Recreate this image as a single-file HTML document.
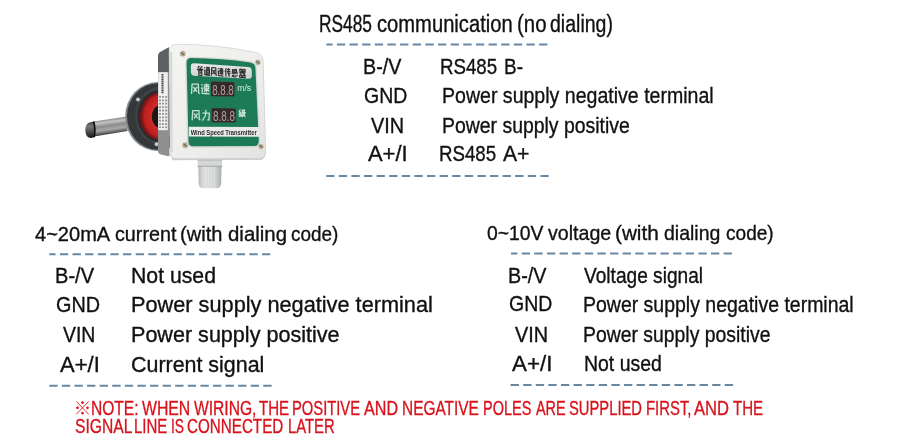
<!DOCTYPE html>
<html><head><meta charset="utf-8"><style>
html,body{margin:0;padding:0;background:#fff}
body{width:900px;height:437px;position:relative;overflow:hidden;font-family:"Liberation Sans",sans-serif}
.t{position:absolute;white-space:nowrap;transform-origin:0 0;-webkit-text-stroke:0.35px currentColor}
svg{position:absolute;left:0;top:0}
</style></head><body>
<svg width="900" height="437" viewBox="0 0 900 437">
<filter id="soft" x="-5%" y="-5%" width="110%" height="110%"><feGaussianBlur stdDeviation="0.35"/></filter>
<g filter="url(#soft)">
<defs>
<linearGradient id="gTube" x1="0" y1="0" x2="0" y2="1">
<stop offset="0" stop-color="#7c7c7c"/><stop offset="0.2" stop-color="#b8b8b8"/><stop offset="0.45" stop-color="#9a9a9a"/><stop offset="0.8" stop-color="#6e6e6e"/><stop offset="1" stop-color="#3a3a3a"/>
</linearGradient>
<linearGradient id="gCap" x1="0" y1="0" x2="0" y2="1">
<stop offset="0" stop-color="#555"/><stop offset="0.3" stop-color="#8a8a8a"/><stop offset="0.6" stop-color="#2a2a2a"/><stop offset="1" stop-color="#111"/>
</linearGradient>
<linearGradient id="gFace" x1="0" y1="0" x2="1" y2="1">
<stop offset="0" stop-color="#f4f4f2"/><stop offset="0.6" stop-color="#ededeb"/><stop offset="1" stop-color="#e2e3e1"/>
</linearGradient>
<linearGradient id="gGland" x1="0" y1="0" x2="1" y2="0">
<stop offset="0" stop-color="#b4b6b7"/><stop offset="0.25" stop-color="#e4e5e5"/><stop offset="0.7" stop-color="#dadbdb"/><stop offset="1" stop-color="#a5a7a8"/>
</linearGradient>
<radialGradient id="gRed" cx="0.55" cy="0.5" r="0.5">
<stop offset="0.55" stop-color="#d12a27"/><stop offset="0.9" stop-color="#b81f1f"/><stop offset="1" stop-color="#7a1515"/>
</radialGradient>
<linearGradient id="gLabel" x1="0" y1="0" x2="0" y2="1">
<stop offset="0" stop-color="#e6e7e7"/><stop offset="1" stop-color="#cfd1d0"/>
</linearGradient>
</defs>
<linearGradient id="gTube2" gradientUnits="userSpaceOnUse" x1="110.3" y1="118.9" x2="112.4" y2="133.9"><stop offset="0" stop-color="#8a8a8a"/><stop offset="0.18" stop-color="#c4c4c4"/><stop offset="0.42" stop-color="#8c8c8c"/><stop offset="0.68" stop-color="#a8a8a8"/><stop offset="0.9" stop-color="#5e5e5e"/><stop offset="1" stop-color="#2e2e2e"/></linearGradient>
<path d="M93.5 121.4 L127 116.6 L127.5 131 L93.8 136.6 Z" fill="url(#gTube2)"/>
<linearGradient id="gCap2" gradientUnits="userSpaceOnUse" x1="89" y1="122" x2="90" y2="138"><stop offset="0" stop-color="#3c3c3c"/><stop offset="0.25" stop-color="#7a7a7a"/><stop offset="0.55" stop-color="#555"/><stop offset="0.85" stop-color="#2a2a2a"/><stop offset="1" stop-color="#111"/></linearGradient>
<path d="M90.5 122.2 Q85.2 123.2 85.3 130 Q85.4 137.3 90.6 137.9 L94.6 137.3 L94.3 121.5 Z" fill="url(#gCap2)"/>
<path d="M93.6 121.6 Q95.8 129 94.2 137" stroke="#0c0c0c" stroke-width="1.6" fill="none"/>
<ellipse cx="157.5" cy="116.5" rx="32.3" ry="34.5" fill="#86898c"/>
<ellipse cx="158" cy="116.5" rx="31" ry="33.2" fill="#36383b"/>
<ellipse cx="160" cy="115.5" rx="25" ry="28.5" fill="#404245"/>
<ellipse cx="160" cy="116" rx="22.5" ry="26" fill="#2b2c2e"/>
<ellipse cx="160" cy="116.2" rx="20.2" ry="23.6" fill="url(#gRed)"/>
<ellipse cx="160" cy="116.6" rx="8.2" ry="11.2" fill="#1c1819"/>
<circle cx="138" cy="99.5" r="2.1" fill="#cfd0d0" stroke="#555" stroke-width="0.5"/>
<circle cx="156.6" cy="144.2" r="2.1" fill="#cfd0d0" stroke="#555" stroke-width="0.5"/>
<path d="M158.00 58.00Q158.00 55.00 160.43 53.24L167.99 47.79Q168.80 47.20 168.81 48.20L169.49 155.50Q169.50 156.50 168.53 156.27L160.92 154.49Q158.00 153.80 158.00 150.80Z" fill="#8d8f91"/>
<path d="M158 72.2 L158 56 Q158 53 161 51.5 L168.8 47.2 L168.9 72.2 Z" fill="#5d6063"/>
<rect x="158.2" y="72.2" width="9.6" height="58" fill="#efefef"/>
<path d="M162.5 74v19.5" stroke="#444" stroke-width="2" stroke-dasharray="1.6 0.6"/>
<path d="M160 96v32M163 96v32M166 96v32" stroke="#555" stroke-width="1.1" stroke-dasharray="1.8 1.6"/>
<path d="M169.3 52 Q169.3 44.3 176.5 44.3 Q215 44 255.5 52.3 Q262.8 53.8 263.2 61 L265.6 151 Q265.7 158.4 258.5 158.5 L177 158.9 Q170.2 158.9 170.1 152 Z" transform="translate(0 1.2)" fill="#c4c5c4"/>
<path d="M169.3 52 Q169.3 44.3 176.5 44.3 Q215 44 255.5 52.3 Q262.8 53.8 263.2 61 L265.6 151 Q265.7 158.4 258.5 158.5 L177 158.9 Q170.2 158.9 170.1 152 Z" fill="url(#gFace)" stroke="#d0d1cf" stroke-width="0.7"/>
<path d="M171 52 L171.5 152" stroke="#d9dad8" stroke-width="2.5"/>
<path d="M185.3 63 Q185.2 56.7 191 56.8 Q222 57.1 250.5 61.2 Q256.6 62.2 256.7 68 L260.2 141.5 Q260.2 147.6 254 147.6 L193 147.7 Q187.2 147.7 187.1 141.8 Z" fill="#d3d8d5"/>
<path d="M186.6 63 Q186.6 58.1 191 58.1 Q222 58.4 250.2 62.5 Q255.3 63.3 255.4 68 L258.8 141.2 Q258.8 146.1 254 146.1 L193 146.3 Q188.6 146.3 188.5 141.6 Z" fill="#1f7a57"/>
<path d="M190.83 66.50Q190.80 63.00 194.29 63.25L248.21 67.05Q251.70 67.30 251.76 70.80L251.84 75.50Q251.90 79.00 248.41 78.81L194.39 75.79Q190.90 75.60 190.87 72.10Z" fill="url(#gLabel)"/>
<path d="M197.87 66.55L199.69 66.68M200.61 66.74L202.54 66.88M198.55 66.15L198.10 67.91M201.40 66.35L200.95 68.11M197.59 70.13L197.59 69.05L202.72 69.39L202.72 70.46M200.15 68.05L200.15 69.22M198.73 70.20L201.57 70.38L201.57 72.08L198.73 71.91L198.73 70.20M198.73 72.63L201.86 72.82L201.86 75.32L198.73 75.14L198.73 72.63M204.42 67.27L204.85 68.37M203.99 70.27L204.79 70.32L204.79 73.70M204.17 74.38L206.28 74.85L210.00 75.33M205.97 67.74L209.81 68.00M206.90 66.74L207.27 67.65M208.88 66.88L208.51 67.73M206.40 68.65L209.38 68.85L209.38 73.80L206.40 73.62L206.40 68.65M206.40 70.25L209.38 70.44M206.40 71.85L209.38 72.03M211.39 75.67L211.74 67.52L215.76 67.80L215.99 75.06L216.70 75.71M212.57 69.77L214.93 74.12M214.93 69.93L212.57 73.98M218.09 68.22L218.50 69.29M217.68 71.15L218.44 71.20L218.44 74.51M217.85 75.17L219.86 75.63L223.40 76.09M219.45 68.84L223.22 69.10M221.34 67.76L221.34 74.85M219.86 70.08L222.81 70.28L222.81 72.17L219.86 71.99L219.86 70.08M221.16 72.24L219.62 74.23M221.51 72.26L223.22 74.27M226.31 68.11L225.03 71.63M225.84 70.31L225.84 76.66M227.12 69.45L230.31 69.67M226.89 71.40L230.48 71.64M228.63 68.27L228.05 72.93M227.35 73.15L230.02 73.31L228.28 75.25M228.28 74.91L229.56 76.69M232.08 69.70L237.12 70.05M232.56 69.74L232.20 73.79M233.16 70.96L235.20 71.10M233.16 71.81L234.96 71.93L234.96 73.36L233.16 73.25L233.16 71.81M235.68 68.77L237.36 74.10M237.00 70.88L235.32 73.47M232.08 76.67L232.80 75.01M233.40 74.54L233.64 76.67L236.40 76.82M234.90 74.63L235.20 75.66M236.64 74.90L237.36 76.12M239.68 69.22L241.86 69.37L241.86 71.37L239.68 71.23L239.68 69.22M242.94 69.45L245.12 69.60L245.12 71.59L242.94 71.45L242.94 69.45M239.27 72.54L245.53 72.95M242.54 71.75L239.95 74.60M242.54 72.92L245.12 74.91M239.68 75.08L241.86 75.21L241.86 77.38L239.68 77.26L239.68 75.08M242.94 75.28L245.12 75.41L245.12 77.57L242.94 77.44L242.94 75.28" stroke="#333" stroke-width="1.2" fill="none" stroke-linejoin="round"/>
<path d="M191.52 93.99L192.07 84.13L198.33 84.13L198.70 92.93L199.80 93.67M193.36 86.78L197.04 91.87M197.04 86.78L193.36 91.87M201.68 84.28L202.30 85.60M201.06 88.02L202.21 88.02L202.21 92.20M201.33 93.08L204.32 93.52L209.60 93.85M203.70 84.94L209.34 84.94M206.52 83.40L206.52 92.42M204.32 86.48L208.72 86.48L208.72 88.90L204.32 88.90L204.32 86.48M206.26 89.12L203.97 91.76M206.78 89.12L209.34 91.54M192.12 120.39L192.67 110.72L198.93 110.72L199.30 119.35L200.40 120.08M193.96 113.32L197.64 118.31M197.64 113.32L193.96 118.31M202.46 113.04L209.34 113.04L208.91 120.06L207.45 119.52M205.90 109.80L205.56 115.20L202.46 120.60M240.42 109.50L239.02 111.96L240.70 112.27L239.02 114.58L241.12 114.12M238.88 116.58L241.12 115.35M241.75 110.27L244.62 110.27L243.50 112.58L245.32 112.58L242.10 117.20M242.52 110.27L242.10 114.12L241.40 116.89M242.94 113.20L245.32 116.89" stroke="#c4e2d2" stroke-width="1.3" fill="none" stroke-linejoin="round"/>
<path d="M211.00 82.30Q211.00 81.50 211.80 81.53L233.70 82.27Q234.50 82.30 234.50 83.10L234.50 95.80Q234.50 96.60 233.70 96.59L211.80 96.31Q211.00 96.30 211.00 95.50Z" fill="#352a2a"/>
<path d="M211.70 108.70Q211.70 107.90 212.50 107.92L235.00 108.38Q235.80 108.40 235.80 109.20L235.80 121.80Q235.80 122.60 235.00 122.59L212.50 122.41Q211.70 122.40 211.70 121.60Z" fill="#352a2a"/>
<g font-family="Liberation Sans" fill="#b8a0a0">
<text x="212.2" y="95" font-size="14.5" textLength="21.5" lengthAdjust="spacingAndGlyphs">8.8.8</text>
<text x="213" y="121.2" font-size="14.5" textLength="22" lengthAdjust="spacingAndGlyphs">8.8.8</text>
</g>
<text x="237.2" y="91.2" font-family="Liberation Sans" font-size="8.5" fill="#d3ebde" textLength="14" lengthAdjust="spacingAndGlyphs">m/s</text>
<path d="M188.70 127.20Q188.70 126.70 189.20 126.70L259.10 126.90Q259.60 126.90 259.60 127.40L259.60 136.30Q259.60 136.80 259.10 136.80L189.20 136.60Q188.70 136.60 188.70 136.10Z" fill="#e9ebea"/>
<text x="190.7" y="135.0" font-family="Liberation Sans" font-weight="bold" font-size="7.9" fill="#2a2a2a" textLength="66" lengthAdjust="spacingAndGlyphs">Wind Speed Transmitter</text>
<circle cx="182.7" cy="53.8" r="3" fill="#aea58d" stroke="#e8e6de" stroke-width="0.6"/>
<path d="M181.1 52.599999999999994L184.29999999999998 55.0" stroke="#4a4535" stroke-width="0.9"/>
<circle cx="257.9" cy="62.4" r="2.8" fill="#aea58d" stroke="#e8e6de" stroke-width="0.6"/>
<path d="M256.29999999999995 61.199999999999996L259.5 63.6" stroke="#4a4535" stroke-width="0.9"/>
<circle cx="185.2" cy="145.2" r="3.1" fill="#aea58d" stroke="#e8e6de" stroke-width="0.6"/>
<path d="M183.6 144.0L186.79999999999998 146.39999999999998" stroke="#4a4535" stroke-width="0.9"/>
<circle cx="261.0" cy="146.5" r="2.8" fill="#aea58d" stroke="#e8e6de" stroke-width="0.6"/>
<path d="M259.4 145.3L262.6 147.7" stroke="#4a4535" stroke-width="0.9"/>
<path d="M172 159.4 L263 158.9" stroke="#cfd0cf" stroke-width="1.6"/>
<path d="M197.6 159.6 H222.2 V166.2 H197.6 Z" fill="#d4d6d7"/>
<path d="M197.6 160.2 H222.2" stroke="#b9bbbc" stroke-width="1"/>
<path d="M197.6 166.3 H222.2" stroke="#8f9192" stroke-width="1"/>
<path d="M198.3 166.8 H221.5 L221.1 183.5 Q220.6 188.3 216.8 188.3 H202.8 Q199 188.3 198.7 183.5 Z" fill="url(#gGland)"/>
<path d="M201 168v18M204 168v19M207 168v19M210 168v19M213 168v19M216 168v19M219 168v18" stroke="#cbcccc" stroke-width="0.6"/>
</g>
<g fill="#d7141d"><path d="M76.3 401.4L88.7 414.3M88.7 401.4L76.3 414.3" stroke="#d7141d" stroke-width="0.9"/><circle cx="82.5" cy="402.6" r="1.35"/><circle cx="82.5" cy="413.1" r="1.35"/><circle cx="77.5" cy="407.8" r="1.35"/><circle cx="87.5" cy="407.8" r="1.35"/></g>
<path d="M326.40 44.50H332.56M336.90 44.50H345.20M349.54 44.50H357.84M362.18 44.50H370.48M374.82 44.50H383.12M387.46 44.50H395.76M400.10 44.50H408.40M412.74 44.50H421.04M425.38 44.50H433.68M438.02 44.50H446.32M450.66 44.50H458.96M463.30 44.50H471.60M475.94 44.50H484.24M488.58 44.50H496.88M501.22 44.50H509.52M513.86 44.50H522.16M526.50 44.50H534.80M539.14 44.50H547.44M326.20 175.90H334.50M338.80 175.90H347.10M351.40 175.90H359.70M364.00 175.90H372.30M376.60 175.90H384.90M389.20 175.90H397.50M401.80 175.90H410.10M414.40 175.90H422.70M427.00 175.90H435.30M439.60 175.90H447.90M452.20 175.90H460.50M464.80 175.90H473.10M477.40 175.90H485.70M490.00 175.90H498.30M502.60 175.90H510.90M515.20 175.90H523.50M527.80 175.90H536.10M540.40 175.90H548.70M49.30 254.20H55.57M59.90 254.20H68.20M72.53 254.20H80.83M85.16 254.20H93.46M97.79 254.20H106.09M110.42 254.20H118.72M123.05 254.20H131.35M135.68 254.20H143.98M148.31 254.20H156.61M160.94 254.20H169.24M173.57 254.20H181.87M186.20 254.20H194.50M198.83 254.20H207.13M211.46 254.20H219.76M224.09 254.20H232.39M236.72 254.20H245.02M249.35 254.20H257.65M261.98 254.20H270.28M49.30 385.70H57.60M61.89 385.70H70.19M74.48 385.70H82.78M87.07 385.70H95.37M99.66 385.70H107.96M112.25 385.70H120.55M124.84 385.70H133.14M137.43 385.70H145.73M150.02 385.70H158.32M162.61 385.70H170.91M175.20 385.70H183.50M187.79 385.70H196.09M200.38 385.70H208.68M212.97 385.70H221.27M225.56 385.70H233.86M238.15 385.70H246.45M250.74 385.70H259.04M263.33 385.70H271.63M511.00 253.50H517.38M521.70 253.50H530.00M534.32 253.50H542.62M546.94 253.50H555.24M559.56 253.50H567.86M572.18 253.50H580.48M584.80 253.50H593.10M597.42 253.50H605.72M610.04 253.50H618.34M622.66 253.50H630.96M635.28 253.50H643.58M647.90 253.50H656.20M660.52 253.50H668.82M673.14 253.50H681.44M685.76 253.50H694.06M698.38 253.50H706.68M711.00 253.50H719.30M723.62 253.50H731.92M510.60 384.90H518.90M523.20 384.90H531.50M535.80 384.90H544.10M548.40 384.90H556.70M561.00 384.90H569.30M573.60 384.90H581.90M586.20 384.90H594.50M598.80 384.90H607.10M611.40 384.90H619.70M624.00 384.90H632.30M636.60 384.90H644.90M649.20 384.90H657.50M661.80 384.90H670.10M674.40 384.90H682.70M687.00 384.90H695.30M699.60 384.90H707.90M712.20 384.90H720.50M724.80 384.90H733.10" stroke="#6887a3" stroke-width="2" fill="none"/>
</svg>
<div class="t" style="left:362.90px;top:55.80px;font-size:22px;line-height:22px;font-weight:normal;transform:scaleX(0.8952);color:#111">B-/V</div>
<div class="t" style="left:364.11px;top:84.80px;font-size:22px;line-height:22px;font-weight:normal;transform:scaleX(0.8872);color:#111">GND</div>
<div class="t" style="left:371.00px;top:114.90px;font-size:22px;line-height:22px;font-weight:normal;transform:scaleX(0.9026);color:#111">VIN</div>
<div class="t" style="left:367.80px;top:143.30px;font-size:22px;line-height:22px;font-weight:normal;transform:scaleX(0.9965);color:#111">A+/I</div>
<div class="t" style="left:442.41px;top:84.80px;font-size:22px;line-height:22px;font-weight:normal;transform:scaleX(0.8887);color:#111">Power supply negative terminal</div>
<div class="t" style="left:442.42px;top:114.90px;font-size:22px;line-height:22px;font-weight:normal;transform:scaleX(0.8826);color:#111">Power supply positive</div>
<div class="t" style="left:55.09px;top:264.90px;font-size:22px;line-height:22px;font-weight:normal;transform:scaleX(0.9118);color:#111">B-/V</div>
<div class="t" style="left:56.40px;top:294.20px;font-size:22px;line-height:22px;font-weight:normal;transform:scaleX(0.9000);color:#111">GND</div>
<div class="t" style="left:63.00px;top:323.70px;font-size:22px;line-height:22px;font-weight:normal;transform:scaleX(0.8830);color:#111">VIN</div>
<div class="t" style="left:60.00px;top:353.60px;font-size:22px;line-height:22px;font-weight:normal;transform:scaleX(1.0017);color:#111">A+/I</div>
<div class="t" style="left:130.64px;top:264.90px;font-size:22px;line-height:22px;font-weight:normal;transform:scaleX(0.9648);color:#111">Not used</div>
<div class="t" style="left:130.61px;top:294.20px;font-size:22px;line-height:22px;font-weight:normal;transform:scaleX(0.9874);color:#111">Power supply negative terminal</div>
<div class="t" style="left:130.62px;top:323.70px;font-size:22px;line-height:22px;font-weight:normal;transform:scaleX(0.9800);color:#111">Power supply positive</div>
<div class="t" style="left:131.03px;top:354.30px;font-size:22px;line-height:22px;font-weight:normal;transform:scaleX(0.9736);color:#111">Current signal</div>
<div class="t" style="left:507.90px;top:264.90px;font-size:22px;line-height:22px;font-weight:normal;transform:scaleX(0.8976);color:#111">B-/V</div>
<div class="t" style="left:509.11px;top:293.10px;font-size:22px;line-height:22px;font-weight:normal;transform:scaleX(0.8872);color:#111">GND</div>
<div class="t" style="left:515.10px;top:324.00px;font-size:22px;line-height:22px;font-weight:normal;transform:scaleX(0.9026);color:#111">VIN</div>
<div class="t" style="left:512.20px;top:352.60px;font-size:22px;line-height:22px;font-weight:normal;transform:scaleX(1.0147);color:#111">A+/I</div>
<div class="t" style="left:583.90px;top:264.90px;font-size:22px;line-height:22px;font-weight:normal;transform:scaleX(0.8692);color:#111">Voltage signal</div>
<div class="t" style="left:583.41px;top:293.50px;font-size:22px;line-height:22px;font-weight:normal;transform:scaleX(0.8854);color:#111">Power supply negative terminal</div>
<div class="t" style="left:583.42px;top:324.00px;font-size:22px;line-height:22px;font-weight:normal;transform:scaleX(0.8812);color:#111">Power supply positive</div>
<div class="t" style="left:583.52px;top:352.60px;font-size:22px;line-height:22px;font-weight:normal;transform:scaleX(0.8844);color:#111">Not used</div>
<div class="t" style="left:91.25px;top:397.70px;font-size:20.8px;line-height:20.8px;font-weight:normal;transform:scaleX(0.7487);color:#d7141d">NOTE:</div>
<div class="t" style="left:141.50px;top:397.70px;font-size:20.8px;line-height:20.8px;font-weight:normal;transform:scaleX(0.7598);color:#d7141d">WHEN</div>
<div class="t" style="left:194.40px;top:397.70px;font-size:20.8px;line-height:20.8px;font-weight:normal;transform:scaleX(0.7506);color:#d7141d">WIRING,</div>
<div class="t" style="left:258.50px;top:397.70px;font-size:20.8px;line-height:20.8px;font-weight:normal;transform:scaleX(0.7244);color:#d7141d">THE</div>
<div class="t" style="left:292.09px;top:397.70px;font-size:20.8px;line-height:20.8px;font-weight:normal;transform:scaleX(0.7092);color:#d7141d">POSITIVE</div>
<div class="t" style="left:364.00px;top:397.70px;font-size:20.8px;line-height:20.8px;font-weight:normal;transform:scaleX(0.7747);color:#d7141d">AND</div>
<div class="t" style="left:401.76px;top:397.70px;font-size:20.8px;line-height:20.8px;font-weight:normal;transform:scaleX(0.7420);color:#d7141d">NEGATIVE</div>
<div class="t" style="left:482.80px;top:397.70px;font-size:20.8px;line-height:20.8px;font-weight:normal;transform:scaleX(0.6964);color:#d7141d">POLES</div>
<div class="t" style="left:535.50px;top:397.70px;font-size:20.8px;line-height:20.8px;font-weight:normal;transform:scaleX(0.6923);color:#d7141d">ARE</div>
<div class="t" style="left:569.00px;top:397.70px;font-size:20.8px;line-height:20.8px;font-weight:normal;transform:scaleX(0.7098);color:#d7141d">SUPPLIED</div>
<div class="t" style="left:646.28px;top:397.70px;font-size:20.8px;line-height:20.8px;font-weight:normal;transform:scaleX(0.7158);color:#d7141d">FIRST,</div>
<div class="t" style="left:694.00px;top:397.70px;font-size:20.8px;line-height:20.8px;font-weight:normal;transform:scaleX(0.7974);color:#d7141d">AND</div>
<div class="t" style="left:732.50px;top:397.70px;font-size:20.8px;line-height:20.8px;font-weight:normal;transform:scaleX(0.7244);color:#d7141d">THE</div>
<div class="t" style="left:74.90px;top:415.50px;font-size:20.8px;line-height:20.8px;font-weight:normal;transform:scaleX(0.7515);color:#d7141d">SIGNAL</div>
<div class="t" style="left:134.48px;top:415.50px;font-size:20.8px;line-height:20.8px;font-weight:normal;transform:scaleX(0.7213);color:#d7141d">LINE</div>
<div class="t" style="left:171.44px;top:415.50px;font-size:20.8px;line-height:20.8px;font-weight:normal;transform:scaleX(0.6637);color:#d7141d">IS</div>
<div class="t" style="left:187.27px;top:415.50px;font-size:20.8px;line-height:20.8px;font-weight:normal;transform:scaleX(0.7307);color:#d7141d">CONNECTED</div>
<div class="t" style="left:288.29px;top:415.50px;font-size:20.8px;line-height:20.8px;font-weight:normal;transform:scaleX(0.7135);color:#d7141d">LATER</div>
<div class="t" style="left:318.85px;top:12.90px;font-size:23px;line-height:23px;font-weight:normal;transform:scaleX(0.7529);color:#111">RS485</div>
<div class="t" style="left:377.30px;top:12.90px;font-size:23px;line-height:23px;font-weight:normal;transform:scaleX(0.8773);color:#111">communication</div>
<div class="t" style="left:516.71px;top:12.90px;font-size:23px;line-height:23px;font-weight:normal;transform:scaleX(0.8871);color:#111">(no</div>
<div class="t" style="left:549.70px;top:12.90px;font-size:23px;line-height:23px;font-weight:normal;transform:scaleX(0.8490);color:#111">dialing)</div>
<div class="t" style="left:34.60px;top:224.20px;font-size:20.5px;line-height:20.5px;font-weight:normal;transform:scaleX(0.9773);color:#111">4~20mA</div>
<div class="t" style="left:114.90px;top:224.20px;font-size:20.5px;line-height:20.5px;font-weight:normal;transform:scaleX(0.9625);color:#111">current</div>
<div class="t" style="left:180.12px;top:224.20px;font-size:20.5px;line-height:20.5px;font-weight:normal;transform:scaleX(0.9790);color:#111">(with</div>
<div class="t" style="left:227.60px;top:224.20px;font-size:20.5px;line-height:20.5px;font-weight:normal;transform:scaleX(0.9955);color:#111">dialing</div>
<div class="t" style="left:291.30px;top:224.20px;font-size:20.5px;line-height:20.5px;font-weight:normal;transform:scaleX(0.9216);color:#111">code)</div>
<div class="t" style="left:486.60px;top:222.30px;font-size:21px;line-height:21px;font-weight:normal;transform:scaleX(0.9217);color:#111">0~10V</div>
<div class="t" style="left:548.00px;top:222.30px;font-size:21px;line-height:21px;font-weight:normal;transform:scaleX(0.9338);color:#111">voltage</div>
<div class="t" style="left:615.11px;top:222.30px;font-size:21px;line-height:21px;font-weight:normal;transform:scaleX(0.9869);color:#111">(with</div>
<div class="t" style="left:664.40px;top:222.30px;font-size:21px;line-height:21px;font-weight:normal;transform:scaleX(0.9278);color:#111">dialing</div>
<div class="t" style="left:725.60px;top:222.30px;font-size:21px;line-height:21px;font-weight:normal;transform:scaleX(0.9081);color:#111">code)</div>
<div class="t" style="left:440.25px;top:55.50px;font-size:22px;line-height:22px;font-weight:normal;transform:scaleX(0.8496);color:#111">RS485</div>
<div class="t" style="left:504.14px;top:55.50px;font-size:22px;line-height:22px;font-weight:normal;transform:scaleX(0.8610);color:#111">B-</div>
<div class="t" style="left:439.15px;top:143.20px;font-size:22px;line-height:22px;font-weight:normal;transform:scaleX(0.8496);color:#111">RS485</div>
<div class="t" style="left:503.30px;top:143.20px;font-size:22px;line-height:22px;font-weight:normal;transform:scaleX(0.9597);color:#111">A+</div>
</body></html>
